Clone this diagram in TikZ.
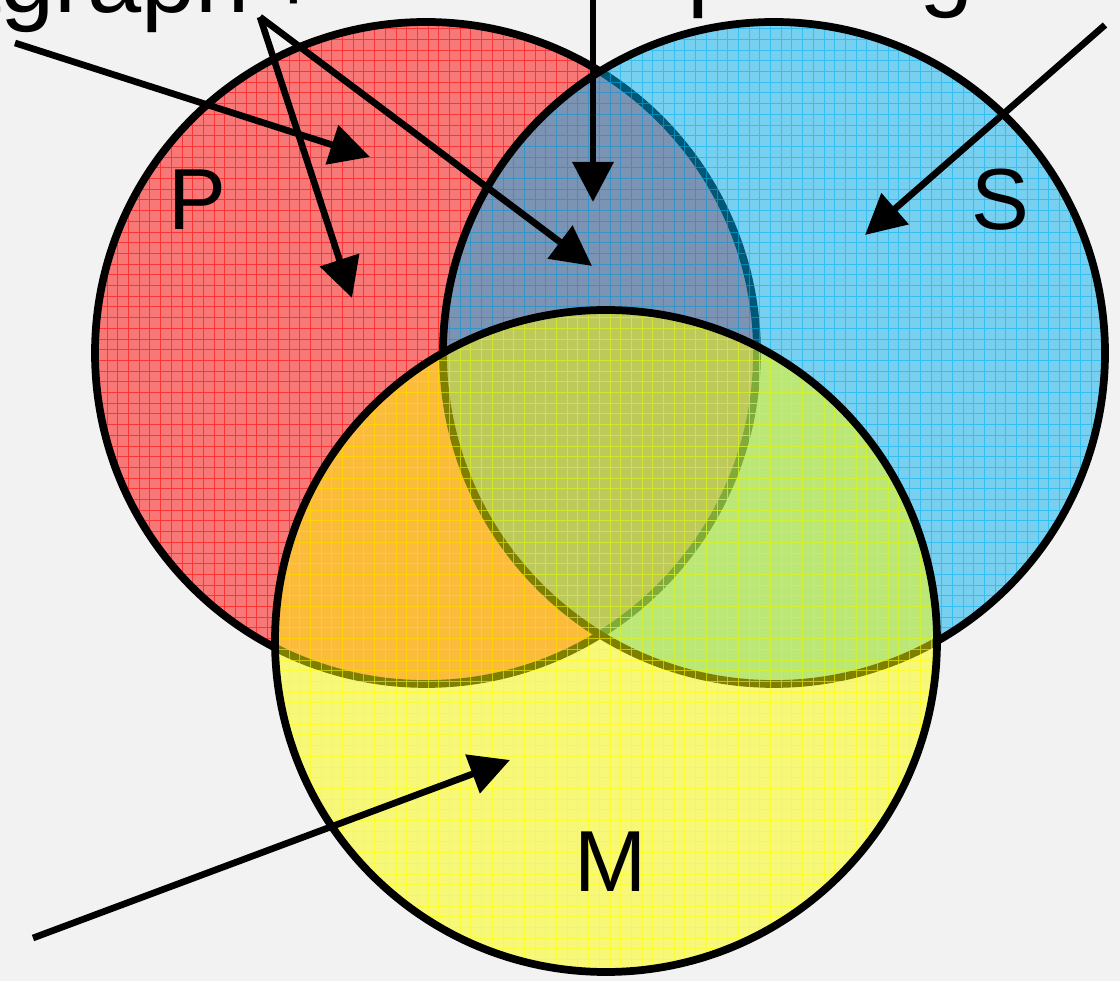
\documentclass[tikz,border=0pt]{standalone}
\usepackage{fontspec}
\setmainfont{Liberation Sans}
\usetikzlibrary{arrows.meta}
\definecolor{bg}{RGB}{242,242,242}
\definecolor{setred}{RGB}{255,0,0}
\definecolor{setblue}{RGB}{0,176,240}
\definecolor{setyellow}{RGB}{255,255,0}

\begin{document}
\begin{tikzpicture}[x=0.75pt, y=0.75pt,
    venn fill/.style={fill opacity=0.5},
    venn grid/.style={line width=0.6pt, draw opacity=0.55},
    venn ring/.style={draw=black, line width=5.8pt},
    set label/.style={font=\fontsize{65}{78}\selectfont, inner sep=0pt},
    top text/.style={font=\fontsize{73}{88}\selectfont, inner sep=0pt, anchor=base west},
    pointer/.style={line width=5pt, -{Triangle[length=30pt, width=30pt]}}]
    \clip (0,0) rectangle (1120,981);
    \fill[bg] (0,0) rectangle (1120,981);

    \coordinate (cP) at (426,628);
    \coordinate (cS) at (774,628);
    \coordinate (cM) at (606,340);

    % P
    \fill[setred, venn fill] (cP) circle (331);
    \begin{scope}
        \clip (cP) circle (331);
        \draw[setred, venn grid, step=10.7] (0,0) grid (1120,981);
    \end{scope}
    \draw[venn ring] (cP) circle (331);

    % S
    \fill[setblue, venn fill] (cS) circle (331);
    \begin{scope}
        \clip (cS) circle (331);
        \draw[setblue, venn grid, step=10.7] (0,0) grid (1120,981);
    \end{scope}
    \draw[venn ring] (cS) circle (331);

    % M
    \fill[setyellow, venn fill] (cM) circle (331);
    \begin{scope}
        \clip (cM) circle (331);
        \draw[setyellow, venn grid, step=10.7] (0,0) grid (1120,981);
    \end{scope}
    \draw[venn ring] (cM) circle (331);

    \node[set label] (lblP) at (197,781) {P};
    \node[set label] (lblS) at (1000,781) {S};
    \node[set label] (lblM) at (611,119) {M};

    \node[top text] (para) at (-205,968) {Paragraph\,+};
    \node[top text] (spac) at (622,982) {Spacing};

    \coordinate (s1) at (15,938);
    \coordinate (s2) at (260,964);
    \coordinate (s4) at (593,990);
    \coordinate (s5) at (1105,956);
    \coordinate (s6) at (33,43);
    \coordinate (t1) at (370,824);
    \coordinate (t2) at (352,683);
    \coordinate (t3) at (592,715);
    \coordinate (t4) at (593,779);
    \coordinate (t5) at (865,746);
    \coordinate (t6) at (510,221);

    \draw[pointer] (s1) -- (t1);
    \draw[pointer] (s2) -- (t2);
    \draw[pointer] (s2) -- (t3);
    \draw[pointer] (s4) -- (t4);
    \draw[pointer] (s5) -- (t5);
    \draw[pointer] (s6) -- (t6);
\end{tikzpicture}
\end{document}
